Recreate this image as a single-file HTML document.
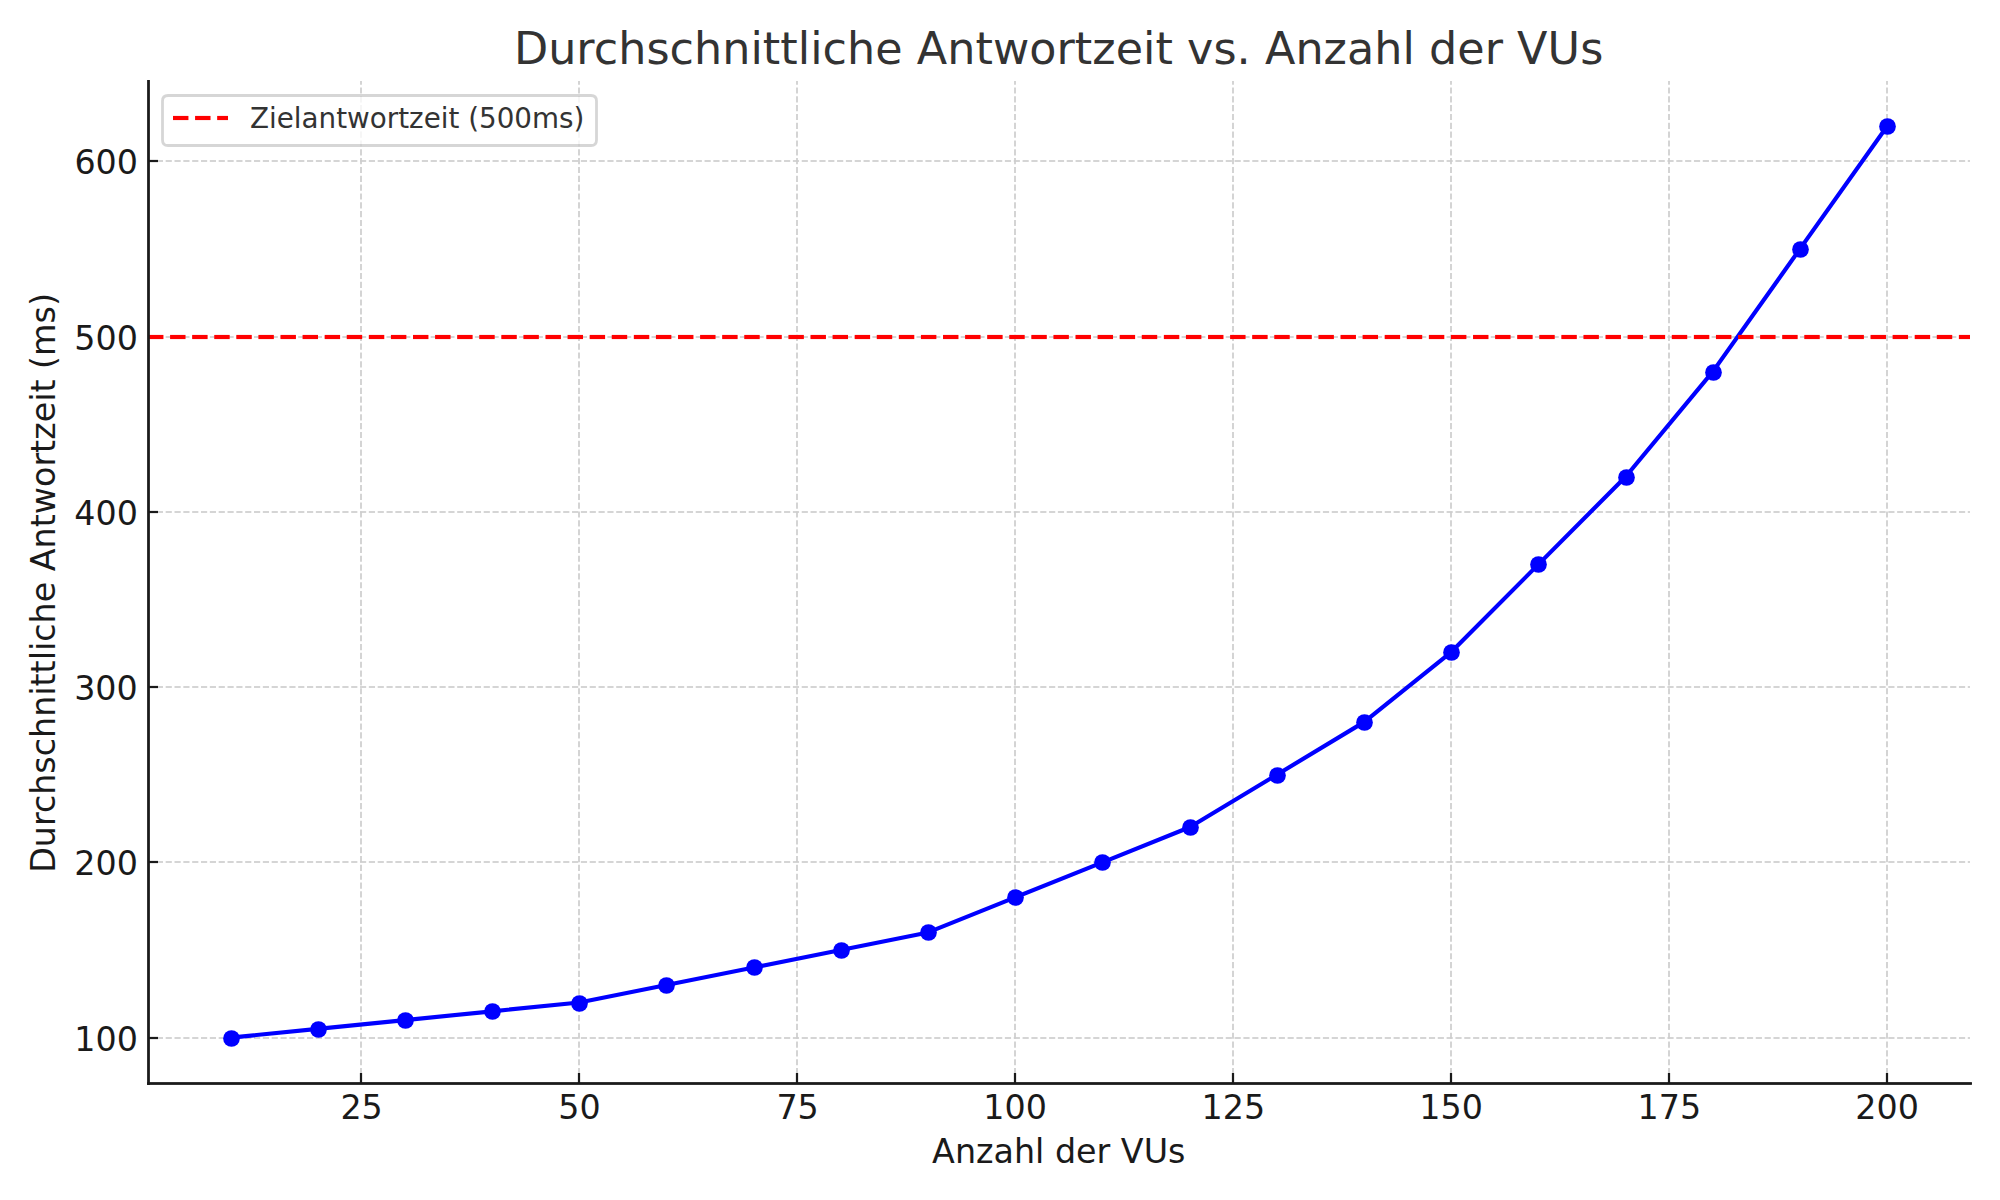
<!DOCTYPE html>
<html lang="de">
<head>
<meta charset="utf-8">
<title>Durchschnittliche Antwortzeit vs. Anzahl der VUs</title>
<style>
html,body{margin:0;padding:0;background:#fff;}
body{width:2000px;height:1200px;overflow:hidden;}
svg{display:block;}
svg text{font-family:"DejaVu Sans", "Liberation Sans", sans-serif;}
.tick{font-size:33.333px;fill:#1a1a1a;}
.lbl{font-size:33.333px;fill:#1a1a1a;}
.ttl{font-size:44.444px;fill:#333333;letter-spacing:0.043px;}
.leg{font-size:27.778px;fill:#333333;}
</style>
</head>
<body>
<svg width="2000" height="1200" viewBox="0 0 2000 1200">
<rect x="0" y="0" width="2000" height="1200" fill="#ffffff"/>
<clipPath id="axclip"><rect x="148" y="81" width="1822" height="1002"/></clipPath>
<g clip-path="url(#axclip)" fill="none" stroke="#cccccc" stroke-width="1.667" stroke-dasharray="6.167 2.667">
<path d="M361 1083 L361 81"/>
<path d="M579 1083 L579 81"/>
<path d="M797 1083 L797 81"/>
<path d="M1015 1083 L1015 81"/>
<path d="M1233 1083 L1233 81"/>
<path d="M1451 1083 L1451 81"/>
<path d="M1669 1083 L1669 81"/>
<path d="M1887 1083 L1887 81"/>
</g>
<g clip-path="url(#axclip)" fill="none" stroke="#cccccc" stroke-width="2" stroke-opacity="0.833" stroke-dasharray="6.167 2.667">
<path d="M148 1038 L1970 1038"/>
<path d="M148 862 L1970 862"/>
<path d="M148 687 L1970 687"/>
<path d="M148 512 L1970 512"/>
<path d="M148 337 L1970 337"/>
<path d="M148 161 L1970 161"/>
</g>
<g fill="none" stroke="#1a1a1a" stroke-width="2.222">
<path d="M361 1083 L361 1073"/>
<path d="M579 1083 L579 1073"/>
<path d="M797 1083 L797 1073"/>
<path d="M1015 1083 L1015 1073"/>
<path d="M1233 1083 L1233 1073"/>
<path d="M1451 1083 L1451 1073"/>
<path d="M1669 1083 L1669 1073"/>
<path d="M1887 1083 L1887 1073"/>
<path d="M148 1038 L158 1038"/>
<path d="M148 862 L158 862"/>
<path d="M148 687 L158 687"/>
<path d="M148 512 L158 512"/>
<path d="M148 337 L158 337"/>
<path d="M148 161 L158 161"/>
</g>
<g clip-path="url(#axclip)">
<polyline points="230.54,1037.598 317.731,1028.835 404.922,1020.072 492.113,1011.309 579.304,1002.546 666.495,985.02 753.686,967.494 840.877,949.967 928.068,932.441 1015.259,897.389 1102.45,862.336 1189.641,827.284 1276.832,774.705 1364.023,722.126 1451.214,652.022 1538.405,564.39 1625.596,476.759 1712.787,371.602 1799.978,248.918 1887.169,126.235" fill="none" stroke="#0000ff" stroke-width="4.167" stroke-linecap="square" stroke-linejoin="round"/>
<circle cx="231.5" cy="1038.5" r="8.333" fill="#0000ff"/>
<circle cx="318.5" cy="1029.5" r="8.333" fill="#0000ff"/>
<circle cx="405.5" cy="1020.5" r="8.333" fill="#0000ff"/>
<circle cx="492.5" cy="1011.5" r="8.333" fill="#0000ff"/>
<circle cx="579.5" cy="1003.5" r="8.333" fill="#0000ff"/>
<circle cx="666.5" cy="985.5" r="8.333" fill="#0000ff"/>
<circle cx="754.5" cy="967.5" r="8.333" fill="#0000ff"/>
<circle cx="841.5" cy="950.5" r="8.333" fill="#0000ff"/>
<circle cx="928.5" cy="932.5" r="8.333" fill="#0000ff"/>
<circle cx="1015.5" cy="897.5" r="8.333" fill="#0000ff"/>
<circle cx="1102.5" cy="862.5" r="8.333" fill="#0000ff"/>
<circle cx="1190.5" cy="827.5" r="8.333" fill="#0000ff"/>
<circle cx="1277.5" cy="775.5" r="8.333" fill="#0000ff"/>
<circle cx="1364.5" cy="722.5" r="8.333" fill="#0000ff"/>
<circle cx="1451.5" cy="652.5" r="8.333" fill="#0000ff"/>
<circle cx="1538.5" cy="564.5" r="8.333" fill="#0000ff"/>
<circle cx="1626.5" cy="477.5" r="8.333" fill="#0000ff"/>
<circle cx="1713.5" cy="372.5" r="8.333" fill="#0000ff"/>
<circle cx="1800.5" cy="249.5" r="8.333" fill="#0000ff"/>
<circle cx="1887.5" cy="126.5" r="8.333" fill="#0000ff"/>
<path d="M148 337 L1970 337" fill="none" stroke="#ff0000" stroke-width="6" stroke-opacity="0.083" stroke-dasharray="15.417 6.667"/>
<path d="M148 337 L1970 337" fill="none" stroke="#ff0000" stroke-width="4" stroke-dasharray="15.417 6.667"/>
</g>
<g fill="none" stroke="#1a1a1a" stroke-width="2.778" stroke-linecap="square">
<path d="M148.5 1083.5 L148.5 81.5"/>
</g>
<path d="M147.111 1083.5 L1971.889 1083.5" fill="none" stroke="#1a1a1a" stroke-width="3" stroke-opacity="0.889"/>
<path d="M147.111 1083.5 L1971.889 1083.5" fill="none" stroke="#1a1a1a" stroke-width="1"/>
<text class="tick" text-anchor="middle" x="361.625" y="1119">25</text>
<text class="tick" text-anchor="middle" x="579.533" y="1119">50</text>
<text class="tick" text-anchor="middle" x="797.63" y="1119">75</text>
<text class="tick" text-anchor="middle" x="1015.11" y="1119">100</text>
<text class="tick" text-anchor="middle" x="1233.401" y="1119">125</text>
<text class="tick" text-anchor="middle" x="1451.185" y="1119">150</text>
<text class="tick" text-anchor="middle" x="1669.394" y="1119">175</text>
<text class="tick" text-anchor="middle" x="1887.061" y="1119">200</text>
<text class="tick" text-anchor="end" x="137.94" y="1051">100</text>
<text class="tick" text-anchor="end" x="137.878" y="875">200</text>
<text class="tick" text-anchor="end" x="137.79" y="700">300</text>
<text class="tick" text-anchor="end" x="137.904" y="525">400</text>
<text class="tick" text-anchor="end" x="137.868" y="350">500</text>
<text class="tick" text-anchor="end" x="138.033" y="174">600</text>
<text class="lbl" text-anchor="middle" x="1058.756" y="1163">Anzahl der VUs</text>
<text class="lbl" text-anchor="middle" transform="translate(55.356 582.98) rotate(-90)">Durchschnittliche Antwortzeit (ms)</text>
<text class="ttl" text-anchor="middle" x="1058.61" y="64">Durchschnittliche Antwortzeit vs. Anzahl der VUs</text>
<path d="M168.056 145.5 L590.944 145.5 Q596.5 145.5 596.5 139.944 L596.5 101.056 Q596.5 95.5 590.944 95.5 L168.056 95.5 Q162.5 95.5 162.5 101.056 L162.5 139.944 Q162.5 145.5 168.056 145.5 Z" fill="#ffffff" stroke="#cccccc" stroke-width="2.778" stroke-linejoin="miter" opacity="0.8"/>
<path d="M173 118 L228 118" fill="none" stroke="#ff0000" stroke-width="6" stroke-opacity="0.083" stroke-dasharray="15.417 6.667"/>
<path d="M173 118 L228 118" fill="none" stroke="#ff0000" stroke-width="4" stroke-dasharray="15.417 6.667"/>
<text class="leg" text-anchor="start" x="250.053" y="128">Zielantwortzeit (500ms)</text>
</svg>
</body>
</html>
